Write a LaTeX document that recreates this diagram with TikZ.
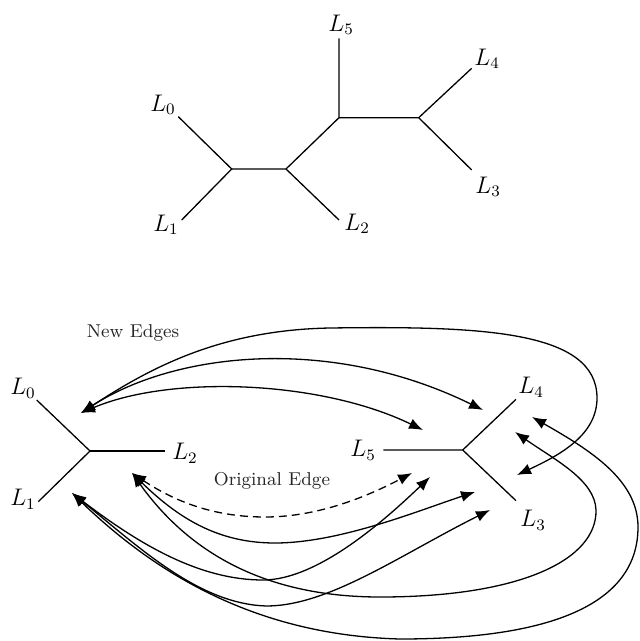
\documentclass[tikz,border=0pt]{standalone}
\usetikzlibrary{arrows.meta}
\begin{document}
\begin{tikzpicture}[x=0.5pt,y=-0.5pt,
  tree/.style={line width=0.65pt},
  lab/.style={font=\fontsize{11.5}{13}\selectfont, inner sep=0pt},
  txt/.style={font=\fontsize{9.3}{11}\selectfont, text=black!85, inner sep=0pt},
  edgearrow/.style={line width=0.65pt, {Latex[length=7pt,width=5.5pt]}-{Latex[length=7pt,width=5.5pt]}}]
\useasboundingbox (0,0) rectangle (640,641);

% ---------- top tree ----------
\coordinate (tA) at (231.7,169);
\coordinate (tB) at (286,169);
\coordinate (tC) at (339,117.7);
\coordinate (tD) at (418.7,117.7);
\coordinate (t0) at (178.3,116.7);
\coordinate (t1) at (181.7,220);
\coordinate (t2) at (339,220);
\coordinate (t5) at (339,38.3);
\coordinate (t4) at (471.7,68.3);
\coordinate (t3) at (471.7,170);
\node[lab] (tL0) at (163,105) {$L_0$};
\node[lab] (tL1) at (166,225) {$L_1$};
\node[lab] (tL2) at (357,224) {$L_2$};
\node[lab] (tL5) at (341,25) {$L_5$};
\node[lab] (tL4) at (487,59) {$L_4$};
\node[lab] (tL3) at (488,187) {$L_3$};
\draw[tree] (t0) -- (tA) -- (t1);
\draw[tree] (tA) -- (tB) -- (t2);
\draw[tree] (tB) -- (tC) -- (t5);
\draw[tree] (tC) -- (tD) -- (t4);
\draw[tree] (tD) -- (t3);

% ---------- bottom left subtree ----------
\coordinate (lE) at (90,451);
\coordinate (l0) at (36.7,400);
\coordinate (l1) at (38.3,501.7);
\coordinate (l2) at (165,451);
\node[lab] (bL0) at (23,388) {$L_0$};
\node[lab] (bL1) at (23,499) {$L_1$};
\node[lab] (bL2) at (185,453) {$L_2$};
\draw[tree] (l0) -- (lE) -- (l1);
\draw[tree] (lE) -- (l2);

% ---------- bottom right subtree ----------
\coordinate (rF) at (462.7,450);
\coordinate (r5) at (383.3,450);
\coordinate (r4) at (516,399.3);
\coordinate (r3) at (516,500.7);
\node[lab] (bL5) at (363,450) {$L_5$};
\node[lab] (bL4) at (531,387) {$L_4$};
\node[lab] (bL3) at (533,520) {$L_3$};
\draw[tree] (r5) -- (rF) -- (r4);
\draw[tree] (rF) -- (r3);

% ---------- texts ----------
\node[txt] (newedges) at (133,333) {New Edges};
\node[txt] (origedge) at (272,481) {Original Edge};

% ---------- arrow end points ----------
\coordinate (e0) at (81,413);
\coordinate (e2) at (132,473);
\coordinate (e1) at (72,493);
\coordinate (f5a) at (423,430);
\coordinate (f4a) at (483,410);
\coordinate (f3a) at (517,475);
\coordinate (f5b) at (412,473);
\coordinate (f5c) at (430,477);
\coordinate (f3b) at (475,492);
\coordinate (f3c) at (490,510);
\coordinate (f4b) at (515,432);
\coordinate (f4c) at (532,417);

% ---------- new edges from L0 ----------
\draw[edgearrow] (e0) .. controls (150,368) and (220,330) .. (330,328)
  .. controls (480,326) and (597,330) .. (597,398)
  .. controls (597,435) and (560,455) .. (f3a);
\draw[edgearrow] (e0) .. controls (175,352) and (330,335) .. (f4a);
\draw[edgearrow] (e0) .. controls (170,375) and (320,380) .. (f5a);

% ---------- original edge ----------
\draw[edgearrow, dash pattern=on 4pt off 2.5pt] (e2) .. controls (180,505) and (220,517) .. (265,517)
  .. controls (320,517) and (370,495) .. (f5b);

% ---------- new edges from L2 ----------
\draw[edgearrow] (e2) .. controls (180,520) and (220,543) .. (275,543)
  .. controls (340,543) and (420,510) .. (f3b);
\draw[edgearrow] (e2) .. controls (180,540) and (250,597) .. (380,597)
  .. controls (520,597) and (597,560) .. (596,510)
  .. controls (595,480) and (555,460) .. (f4b);

% ---------- new edges from L1 ----------
\draw[edgearrow] (e1) .. controls (140,545) and (200,580) .. (263,580)
  .. controls (320,580) and (390,515) .. (f5c);
\draw[edgearrow] (e1) .. controls (140,548) and (200,605) .. (268,606)
  .. controls (330,605) and (400,555) .. (f3c);
\draw[edgearrow] (e1) .. controls (150,568) and (250,635) .. (400,639)
  .. controls (560,639) and (638,600) .. (638,527)
  .. controls (638,480) and (590,450) .. (f4c);
\end{tikzpicture}
\end{document}
